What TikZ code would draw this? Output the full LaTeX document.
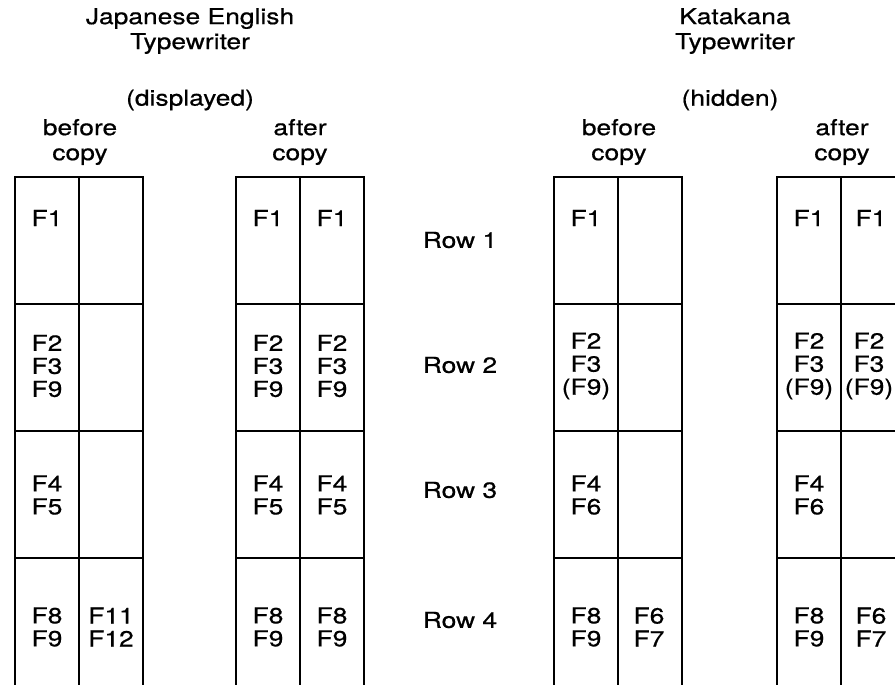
\documentclass[tikz,border=0pt]{standalone}
\usepackage{fontspec}
\setmainfont[FakeStretch=1.2, FakeBold=0.6]{TeX Gyre Heros}
\usetikzlibrary{positioning}

\begin{document}
\begin{tikzpicture}[
  x=1pt, y=-1pt,
  grid/.style={line width=1.5pt},
  head/.style={font=\fontsize{22}{25}\selectfont, align=center, inner sep=0pt},
  cell/.style={font=\fontsize{22}{23}\selectfont, align=center, inner sep=0pt},
  rowlabel/.style={font=\fontsize{22}{25}\selectfont, inner sep=0pt}
]
  \useasboundingbox (0,0) rectangle (895,685);
  \clip (0,0) rectangle (895,685);

  % the four tables, open at the bottom
  \foreach \tx in {15, 236, 554, 777} {
    \draw[grid] (\tx,690) -- (\tx,177) -- (\tx+128,177) -- (\tx+128,690);
    \draw[grid] (\tx+64,177) -- (\tx+64,690);
    \foreach \ry in {304, 431, 558}
      \draw[grid] (\tx,\ry) -- (\tx+128,\ry);
  }

  % headings
  \node[head] (jtitle) at (190,31) {Japanese English\\Typewriter};
  \node[head] (jstate) at (190,100) {(displayed)};
  \node[head] (jbefore) at (80,142) {before\\copy};
  \node[head] (jafter) at (300,142) {after\\copy};
  \node[head] (ktitle) at (735,31) {Katakana\\Typewriter};
  \node[head] (kstate) at (730,100) {(hidden)};
  \node[head] (kbefore) at (619,142) {before\\copy};
  \node[head] (kafter) at (842,142) {after\\copy};

  % row labels
  \node[rowlabel] (row1) at (460,240) {Row 1};
  \node[rowlabel] (row2) at (460,365) {Row 2};
  \node[rowlabel] (row3) at (460,490) {Row 3};
  \node[rowlabel] (row4) at (460,620) {Row 4};

  % row 1
  \node[cell] (jb1a) at (47,218) {F1};
  \node[cell] (ja1a) at (268,218) {F1};
  \node[cell] (ja1b) at (332,218) {F1};
  \node[cell] (kb1a) at (586,218) {F1};
  \node[cell] (ka1a) at (809,218) {F1};
  \node[cell] (ka1b) at (871,218) {F1};

  % row 2
  \node[cell] (jb2a) at (47,366) {F2\\F3\\F9};
  \node[cell] (ja2a) at (268,366) {F2\\F3\\F9};
  \node[cell] (ja2b) at (332,366) {F2\\F3\\F9};
  \node[cell] (kb2a) at (586,366) {F2\\F3\\(F9)};
  \node[cell] (ka2a) at (809,366) {F2\\F3\\(F9)};
  \node[cell] (ka2b) at (869,366) {F2\\F3\\(F9)};

  % row 3
  \node[cell] (jb3a) at (47,495) {F4\\F5};
  \node[cell] (ja3a) at (268,495) {F4\\F5};
  \node[cell] (ja3b) at (332,495) {F4\\F5};
  \node[cell] (kb3a) at (586,495) {F4\\F6};
  \node[cell] (ka3a) at (809,495) {F4\\F6};

  % row 4
  \node[cell] (jb4a) at (47,627) {F8\\F9};
  \node[cell] (jb4b) at (111,627) {F11\\F12};
  \node[cell] (ja4a) at (268,627) {F8\\F9};
  \node[cell] (ja4b) at (332,627) {F8\\F9};
  \node[cell] (kb4a) at (586,627) {F8\\F9};
  \node[cell] (kb4b) at (649,627) {F6\\F7};
  \node[cell] (ka4a) at (809,627) {F8\\F9};
  \node[cell] (ka4b) at (871,627) {F6\\F7};
\end{tikzpicture}
\end{document}
